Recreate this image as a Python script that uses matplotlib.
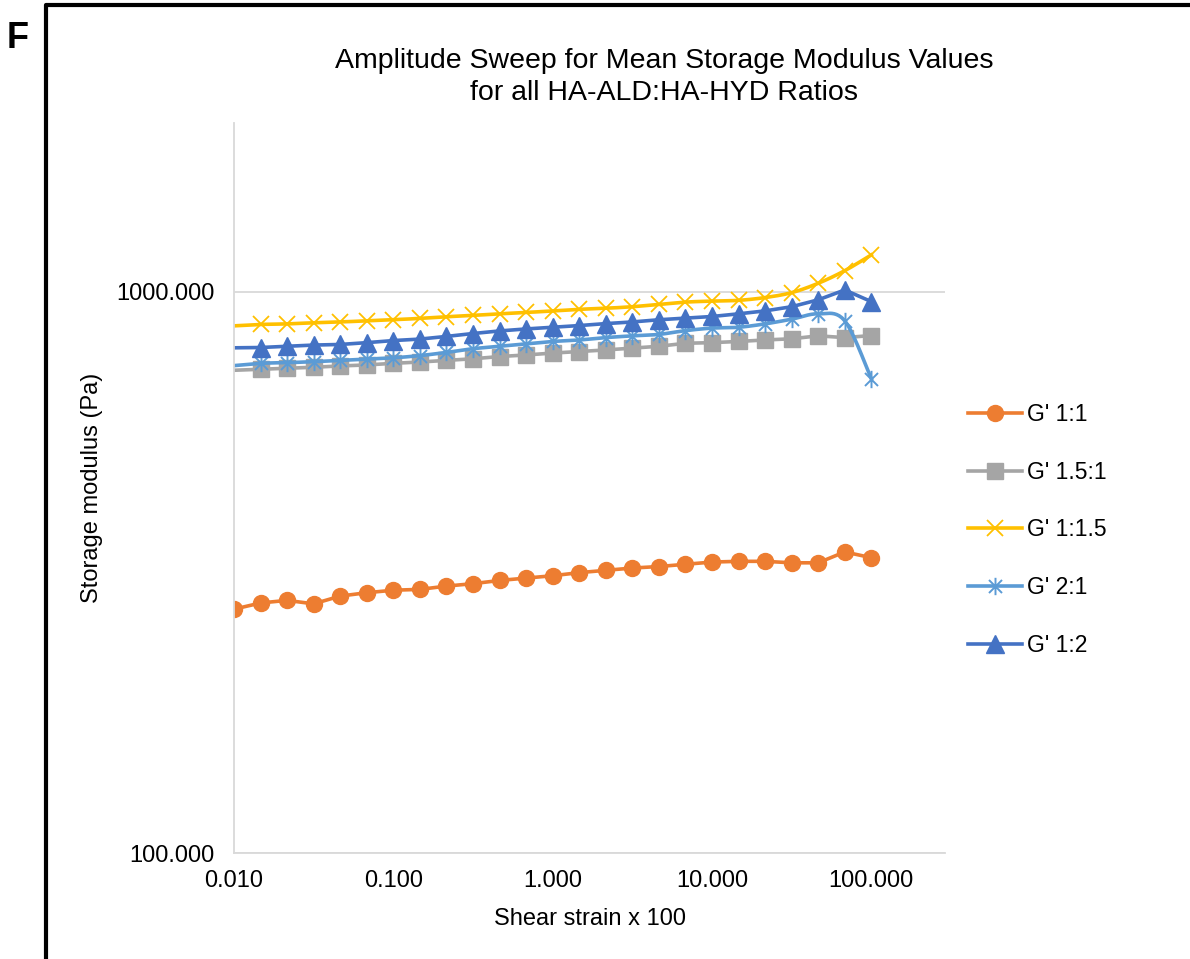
import numpy as np
import matplotlib
matplotlib.use("Agg")
import matplotlib.pyplot as plt
from matplotlib.lines import Line2D
from matplotlib.path import Path

plt.rcParams['font.family'] = ['Liberation Sans', 'DejaVu Sans']

# shear strain (x 100), six points per decade
strain = [0.01, 0.0147, 0.0215, 0.0316, 0.0464, 0.0681,
          0.1, 0.147, 0.215, 0.316, 0.464, 0.681,
          1.0, 1.47, 2.15, 3.16, 4.64, 6.81,
          10.0, 14.7, 21.5, 31.6, 46.4, 68.1, 100.0]

# mean storage modulus (Pa) for each HA-ALD:HA-HYD ratio
g_1_1 = [272, 279, 282, 278, 287, 291, 294, 295, 299, 302, 306, 309, 312,
         316, 319, 322, 324, 327, 330, 331, 331, 329, 329, 344, 336]
g_15_1 = [725, 728, 731, 734, 738, 741, 746, 750, 755, 760, 767, 772, 778,
          783, 788, 794, 800, 810, 812, 816, 821, 825, 835, 829, 836]
g_1_15 = [870, 875, 877, 881, 884, 888, 892, 897, 903, 908, 914, 919, 925,
          931, 935, 941, 950, 959, 963, 966, 977, 997, 1036, 1091, 1164]
g_2_1 = [739, 746, 748, 751, 755, 759, 763, 770, 780, 792, 800, 808, 816,
         821, 829, 835, 840, 853, 862, 865, 877, 894, 914, 888, 700]
g_1_2 = [795, 796, 800, 804, 806, 812, 819, 824, 833, 843, 852, 859, 865,
         871, 878, 884, 892, 898, 904, 914, 925, 941, 968, 1008, 961]

labels = ["G' 1:1", "G' 1.5:1", "G' 1:1.5", "G' 2:1", "G' 1:2"]
colors = ['#ED7D31', '#A5A5A5', '#FFC000', '#5B9BD5', '#4472C4']

# asterisk marker: vertical bar plus a cross
star = Path([(0, -1), (0, 1), (-0.75, -0.75), (0.75, 0.75), (-0.75, 0.75), (0.75, -0.75)],
            [Path.MOVETO, Path.LINETO, Path.MOVETO, Path.LINETO, Path.MOVETO, Path.LINETO])


def smooth(x, y, n=24):
    # bezier smoothing through the points, done in log-log space
    P = np.column_stack([np.log10(x), np.log10(y)])
    Q = np.vstack([P[0], P, P[-1]])
    t = np.linspace(0, 1, n)[:, None]
    out = []
    for i in range(len(P) - 1):
        p0, p1 = Q[i + 1], Q[i + 2]
        c1 = p0 + (Q[i + 2] - Q[i]) / 6
        c2 = p1 - (Q[i + 3] - Q[i + 1]) / 6
        seg = (1 - t)**3 * p0 + 3 * (1 - t)**2 * t * c1 + 3 * (1 - t) * t**2 * c2 + t**3 * p1
        out.append(seg if i == 0 else seg[1:])
    out = np.vstack(out)
    return 10**out[:, 0], 10**out[:, 1]


fig = plt.figure(figsize=(11.9, 9.59), dpi=100)
ax = fig.add_axes([234 / 1190, 1 - 853 / 959, 711 / 1190, 730 / 959])

lw = 2.6
skip_first = list(range(1, len(strain)))

ax.plot(strain, g_1_1, color=colors[0], lw=lw, marker='o', ms=11.5, mec=colors[0])
ax.plot(strain, g_15_1, color=colors[1], lw=lw, marker='s', ms=11, mec=colors[1],
        markevery=skip_first)

sx, sy = smooth(strain, g_1_15)
ax.plot(sx, sy, color=colors[2], lw=lw)
ax.plot(strain[1:], g_1_15[1:], ls='none', marker='x', ms=12, mew=1.3, color=colors[2])

sx, sy = smooth(strain, g_2_1)
ax.plot(sx, sy, color=colors[3], lw=lw)
ax.plot(strain[1:], g_2_1[1:], ls='none', marker=star, ms=12.5, mew=1.4, color=colors[3])

ax.plot(strain, g_1_2, color=colors[4], lw=lw, marker='^', ms=12.5, mec=colors[4],
        markevery=skip_first)

ax.set_xscale('log')
ax.set_yscale('log')
ax.set_xlim(0.01, 290)
ax.set_ylim(100, 2000)
ax.set_xticks([0.01, 0.1, 1, 10, 100])
ax.set_yticks([100, 1000])
ax.xaxis.set_minor_locator(matplotlib.ticker.NullLocator())
ax.yaxis.set_minor_locator(matplotlib.ticker.NullLocator())
fmt = matplotlib.ticker.FormatStrFormatter('%.3f')
ax.xaxis.set_major_formatter(fmt)
ax.yaxis.set_major_formatter(fmt)
ax.tick_params(axis='both', length=0, labelsize=17, colors='black')
ax.tick_params(axis='x', pad=12)
ax.tick_params(axis='y', pad=14)

for side in ['top', 'right']:
    ax.spines[side].set_visible(False)
for side in ['left', 'bottom']:
    ax.spines[side].set_color('#D9D9D9')
    ax.spines[side].set_linewidth(1.3)
ax.grid(axis='y', which='major', color='#D9D9D9', lw=1.3)
ax.set_axisbelow(True)

ax.set_xlabel('Shear strain x 100', fontsize=17)
ax.xaxis.set_label_coords(0.5, (853 - 919) / 730)
ax.xaxis.label.set_va('center')
ax.set_ylabel('Storage modulus (Pa)', fontsize=17)
ax.yaxis.set_label_coords((92 - 234) / 711, 0.5)
ax.yaxis.label.set_va('center')

fig.text(664 / 1190, 1 - 77 / 959,
         'Amplitude Sweep for Mean Storage Modulus Values\nfor all HA-ALD:HA-HYD Ratios',
         ha='center', va='center', fontsize=20.5, linespacing=1.27)

handles = [
    Line2D([], [], color=colors[0], lw=lw, marker='o', ms=11.5),
    Line2D([], [], color=colors[1], lw=lw, marker='s', ms=11),
    Line2D([], [], color=colors[2], lw=lw, marker='x', ms=12, mew=1.3),
    Line2D([], [], color=colors[3], lw=lw, marker=star, ms=12.5, mew=1.4),
    Line2D([], [], color=colors[4], lw=lw, marker='^', ms=12.5),
]
fig.legend(handles, labels, loc='center left', bbox_to_anchor=(968 / 1190, 1 - 530 / 959),
           frameon=False, fontsize=16.5, handlelength=2.36, handletextpad=0.22,
           labelspacing=1.52, borderpad=0, borderaxespad=0, numpoints=1)

# panel letter and frame
fig.text(18 / 1190, 1 - 38 / 959, 'F', fontsize=26, fontweight='bold', ha='center', va='center')
fig.add_artist(Line2D([46 / 1190, 46 / 1190, 1.0], [0.0, 1 - 5 / 959, 1 - 5 / 959],
                      transform=fig.transFigure, color='black', lw=3))

fig.savefig('out.png', dpi=100)
